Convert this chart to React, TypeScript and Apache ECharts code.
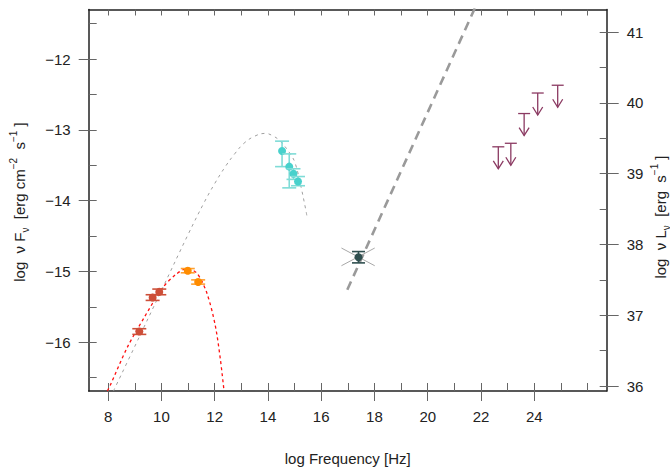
import React, { useEffect, useRef } from "react";
import * as echarts from "echarts";

// axis extents (log nu, log nuFnu); right axis = log nuLnu = left + offset
const X_MIN = 7.27;
const X_MAX = 26.72;
const Y_MIN = -16.69;
const Y_MAX = -11.3;
const L_OFFSET = 52.62;

const xMajorTicks = [8, 10, 12, 14, 16, 18, 20, 22, 24];
const xAllTicks = [8, 9, 10, 11, 12, 13, 14, 15, 16, 17, 18, 19, 20, 21, 22, 23, 24, 25, 26];
const yMajorTicks = [-16, -15, -14, -13, -12];
const yAllTicks = [-16.5, -16, -15.5, -15, -14.5, -14, -13.5, -13, -12.5, -12, -11.5];
const rMajorTicks = [36, 37, 38, 39, 40, 41];
const rAllTicks = [36, 36.5, 37, 37.5, 38, 38.5, 39, 39.5, 40, 40.5, 41];

// [log nu, log nuFnu, lower, upper]
const radioRed = [
  [9.17, -15.85, -15.89, -15.81],
  [9.67, -15.37, -15.41, -15.33],
  [9.92, -15.29, -15.33, -15.25],
];
const radioOrange = [
  [10.99, -14.99, -15.02, -14.96],
  [11.38, -15.15, -15.18, -15.12],
];
const opticalCyan = [
  [14.53, -13.3, -13.52, -13.16],
  [14.8, -13.52, -13.82, -13.34],
  [14.96, -13.62, -13.7, -13.55],
  [15.13, -13.73, -13.79, -13.66],
];
const xrayPoint = [[17.4, -14.8, -14.88, -14.72]];
const xrayBowtieA = [
  [16.76, -14.67],
  [18.01, -14.92],
];
const xrayBowtieB = [
  [16.76, -14.92],
  [18.01, -14.67],
];
// upper limits [log nu, log nuFnu]
const gammaLimits = [
  [22.65, -13.24],
  [23.12, -13.19],
  [23.62, -12.77],
  [24.13, -12.48],
  [24.88, -12.37],
];
const thermalModel = [
  [8.2, -16.69],
  [9.0, -16.06],
  [10.0, -15.27],
  [11.0, -14.48],
  [11.6, -14.03],
  [12.0, -13.76],
  [12.4, -13.52],
  [12.75, -13.34],
  [13.1, -13.19],
  [13.5, -13.09],
  [13.9, -13.05],
  [14.21, -13.09],
  [14.46, -13.16],
  [14.84, -13.34],
  [15.03, -13.48],
  [15.25, -13.82],
  [15.4, -14.09],
  [15.46, -14.21],
];
const radioModel = [
  [7.97, -16.69],
  [8.09, -16.6],
  [8.71, -16.08],
  [9.34, -15.66],
  [10.03, -15.24],
  [10.52, -15.05],
  [10.96, -14.96],
  [11.34, -15.03],
  [11.71, -15.31],
  [12.02, -15.76],
  [12.21, -16.23],
  [12.34, -16.65],
];
const powerLaw = [
  [16.98, -15.26],
  [22.0, -11.09],
];

const FONT = "'Liberation Sans', Arial, Helvetica, sans-serif";
const fmtMinus = (v: number) => (v < 0 ? "\u2212" + Math.abs(v) : String(v));

function errRenderer(color: string, barColor: string, capHalf: number, r: number) {
  return (params: any, api: any) => {
    const x = api.value(0);
    const y = api.value(1);
    const lo = api.value(2);
    const hi = api.value(3);
    const c = api.coord([x, y]);
    const pLo = api.coord([x, lo]);
    const pHi = api.coord([x, hi]);
    const st = { stroke: barColor, lineWidth: 1.6 };
    return {
      type: "group",
      children: [
        { type: "line", shape: { x1: pLo[0], y1: pLo[1], x2: pHi[0], y2: pHi[1] }, style: st },
        { type: "line", shape: { x1: pLo[0] - capHalf, y1: pLo[1], x2: pLo[0] + capHalf, y2: pLo[1] }, style: st },
        { type: "line", shape: { x1: pHi[0] - capHalf, y1: pHi[1], x2: pHi[0] + capHalf, y2: pHi[1] }, style: st },
        { type: "circle", shape: { cx: c[0], cy: c[1], r }, style: { fill: color } },
      ],
    };
  };
}

function limitRenderer(color: string) {
  return (params: any, api: any) => {
    const p = api.coord([api.value(0), api.value(1)]);
    const len = 22;
    const st = { stroke: color, lineWidth: 1.3 };
    return {
      type: "group",
      children: [
        { type: "line", shape: { x1: p[0] - 6, y1: p[1], x2: p[0] + 6, y2: p[1] }, style: st },
        { type: "line", shape: { x1: p[0], y1: p[1], x2: p[0], y2: p[1] + len }, style: st },
        { type: "polyline", shape: { points: [[p[0] - 5, p[1] + len - 8], [p[0], p[1] + len], [p[0] + 5, p[1] + len - 8]] }, style: { ...st, fill: "none" } },
      ],
    };
  };
}

const rich = {
  n: { fontSize: 15, fontFamily: FONT, fill: "#222", lineHeight: 22 },
  sub: { fontSize: 10, fontFamily: FONT, fill: "#222", verticalAlign: "bottom" },
  sup: { fontSize: 10, fontFamily: FONT, fill: "#222", verticalAlign: "top" },
};

export default function App() {
  const ref = useRef<HTMLDivElement>(null);
  useEffect(() => {
    document.body.style.margin = "0";
    if (!ref.current) return;
    const chart = echarts.init(ref.current, undefined, { renderer: "svg" });
    const axisLine = { show: true, lineStyle: { color: "#222", width: 1.5 } };
    const tickStyle = { color: "#666", width: 1 };
    const labelStyle = { color: "#222", fontSize: 15, fontFamily: FONT };
    const xBase = { type: "value", min: X_MIN, max: X_MAX, splitLine: { show: false } };
    const yBase = { type: "value", min: Y_MIN, max: Y_MAX, splitLine: { show: false } };
    const rBase = { type: "value", min: Y_MIN + L_OFFSET, max: Y_MAX + L_OFFSET, splitLine: { show: false } };
    const errSeries = (data: number[][], color: string, bar: string, cap: number) => ({
      type: "custom",
      data,
      encode: { x: 0, y: 1 },
      renderItem: errRenderer(color, bar, cap, 4),
      z: 5,
    });
    const lineSeries = (data: number[][], color: string, width: number, dash: any, smooth: any) => ({
      type: "line",
      data,
      showSymbol: false,
      symbol: "none",
      smooth,
      clip: true,
      lineStyle: { color, width, type: dash },
      z: 3,
    });
    chart.setOption({
      animation: false,
      backgroundColor: "#fff",
      grid: { left: 88.7, right: 63.3, top: 9.5, bottom: 77.7, containLabel: false },
      xAxis: [
        {
          ...xBase,
          position: "bottom",
          axisLine,
          axisTick: { show: true, inside: false, length: 10, lineStyle: tickStyle, customValues: xMajorTicks },
          axisLabel: { show: true, margin: 18, ...labelStyle, customValues: xMajorTicks },
          name: "log Frequency [Hz]",
          nameLocation: "middle",
          nameGap: 60,
          nameTextStyle: { fontSize: 15, fontFamily: FONT, color: "#222" },
        },
        {
          ...xBase,
          position: "bottom",
          axisLine: { show: false },
          axisTick: { show: true, inside: true, length: 8, lineStyle: tickStyle, customValues: xAllTicks },
          axisLabel: { show: false },
        },
        {
          ...xBase,
          position: "top",
          axisLine,
          axisTick: { show: true, inside: true, length: 6, lineStyle: tickStyle, customValues: xAllTicks },
          axisLabel: { show: false },
        },
      ],
      yAxis: [
        {
          ...yBase,
          position: "left",
          axisLine,
          axisTick: { show: true, inside: false, length: 10, lineStyle: tickStyle, customValues: yMajorTicks },
          axisLabel: { show: true, margin: 18, ...labelStyle, formatter: fmtMinus, customValues: yMajorTicks },
        },
        {
          ...yBase,
          position: "left",
          axisLine: { show: false },
          axisTick: { show: true, inside: true, length: 8, lineStyle: tickStyle, customValues: yAllTicks },
          axisLabel: { show: false },
        },
        {
          ...rBase,
          position: "right",
          axisLine,
          axisTick: { show: true, inside: false, length: 12, lineStyle: tickStyle, customValues: rMajorTicks },
          axisLabel: { show: true, margin: 20, ...labelStyle, customValues: rMajorTicks },
        },
        {
          ...rBase,
          position: "right",
          axisLine: { show: false },
          axisTick: { show: true, inside: true, length: 7, lineStyle: tickStyle, customValues: rAllTicks },
          axisLabel: { show: false },
        },
      ],
      series: [
        lineSeries(thermalModel, "#a0a0a0", 1, [3, 4], 0.4),
        lineSeries(radioModel, "#ff1010", 1.3, [3, 3], 0.3),
        lineSeries(powerLaw, "#9a9a9a", 2.6, [9, 6], false),
        lineSeries(xrayBowtieA, "#a8a8a8", 1, "solid", false),
        lineSeries(xrayBowtieB, "#a8a8a8", 1, "solid", false),
        errSeries(radioRed, "#cd4f39", "#cd4f39", 7),
        errSeries(radioOrange, "#ff8c00", "#ffa030", 7),
        errSeries(opticalCyan, "#48d1cc", "#7fdcd7", 7),
        errSeries(xrayPoint, "#2f4f4f", "#2f4f4f", 6.5),
        {
          type: "custom",
          data: gammaLimits,
          encode: { x: 0, y: 1 },
          renderItem: limitRenderer("#8b3a62"),
          z: 5,
        },
      ],
      graphic: [
        {
          type: "text",
          x: 19,
          y: 202,
          rotation: Math.PI / 2,
          style: {
            text: "{n|log  \u03bd F}{sub|\u03bd}{n|  [erg cm}{sup|\u22122}{n|  s}{sup|\u22121}{n| ]}",
            rich,
            align: "center",
            verticalAlign: "middle",
          },
        },
        {
          type: "text",
          x: 660,
          y: 217,
          rotation: Math.PI / 2,
          style: {
            text: "{n|log  \u03bd L}{sub|\u03bd}{n|  [erg  s}{sup|\u22121}{n| ]}",
            rich,
            align: "center",
            verticalAlign: "middle",
          },
        },
      ],
    } as any);
    return () => chart.dispose();
  }, []);
  return <div ref={ref} style={{ width: 670, height: 471 }} />;
}
